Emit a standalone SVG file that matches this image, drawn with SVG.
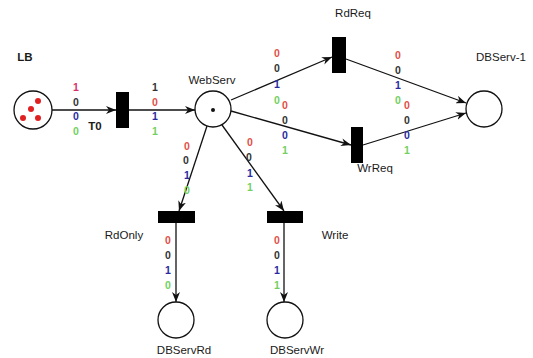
<svg xmlns="http://www.w3.org/2000/svg" width="533" height="358" viewBox="0 0 533 358">
<defs>
<marker id="arr" viewBox="0 0 10 8" refX="10" refY="4" markerWidth="10" markerHeight="8" markerUnits="userSpaceOnUse" orient="auto">
<path d="M0,0 L10,4 L0,8 L3,4 z" fill="#111"/>
</marker>
<style>
.place{fill:#fff;stroke:#111;stroke-width:1.3}
.trans{fill:#000}
.arc{stroke:#111;stroke-width:1.3;fill:none;marker-end:url(#arr)}
.lbl{font-family:"Liberation Sans",Arial,sans-serif;font-size:11.5px;fill:#1a1a1a;text-anchor:middle}
.bold{font-weight:bold}
.n{font-family:"Liberation Sans",Arial,sans-serif;font-size:10.5px;font-weight:bold;text-anchor:middle}
.r{fill:#e0504a}.k{fill:#333}.b{fill:#2a2aa0}.g{fill:#72d060}
.tok{fill:#e02020}
</style>
</defs>
<rect width="533" height="358" fill="#fff"/>
<g id="connectors">
<line class="arc" x1="52" y1="110" x2="116" y2="110"/>
<line class="arc" x1="129" y1="110" x2="195" y2="110"/>
<line class="arc" x1="231" y1="100" x2="332" y2="57"/>
<line class="arc" x1="231" y1="111" x2="351" y2="145"/>
<line class="arc" x1="207" y1="126" x2="179" y2="211"/>
<line class="arc" x1="222" y1="125" x2="284" y2="211"/>
<line class="arc" x1="346" y1="59" x2="466" y2="103"/>
<line class="arc" x1="363" y1="145" x2="466" y2="113"/>
<line class="arc" x1="176" y1="223" x2="176" y2="302"/>
<line class="arc" x1="284" y1="223" x2="284" y2="302"/>
</g>
<g id="arc-labels">
<text class="n" x="76" y="91" style="fill:#d8306a">1</text>
<text class="n k" x="76" y="106">0</text>
<text class="n b" x="76" y="120">0</text>
<text class="n g" x="76" y="135">0</text>
<text class="n k" x="155" y="91">1</text>
<text class="n r" x="155" y="106">0</text>
<text class="n b" x="155" y="120">1</text>
<text class="n g" x="155" y="135">1</text>
<text class="n r" x="277" y="57">0</text>
<text class="n k" x="277" y="72">0</text>
<text class="n b" x="277" y="88">1</text>
<text class="n g" x="277" y="104">0</text>
<text class="n r" x="285" y="109">0</text>
<text class="n k" x="285" y="124">0</text>
<text class="n b" x="285" y="139">0</text>
<text class="n g" x="285" y="154">1</text>
<text class="n r" x="398" y="59">0</text>
<text class="n k" x="398" y="74">0</text>
<text class="n b" x="398" y="89">1</text>
<text class="n g" x="398" y="104">0</text>
<text class="n r" x="407" y="109">0</text>
<text class="n k" x="407" y="124">0</text>
<text class="n b" x="407" y="139">0</text>
<text class="n g" x="407" y="154">1</text>
<text class="n r" x="187" y="150">0</text>
<text class="n k" x="186" y="164">0</text>
<text class="n b" x="187" y="179">1</text>
<text class="n g" x="187" y="194">0</text>
<text class="n r" x="250" y="146">0</text>
<text class="n k" x="249" y="161">0</text>
<text class="n b" x="250" y="177">1</text>
<text class="n g" x="250" y="191">1</text>
<text class="n r" x="168" y="244">0</text>
<text class="n k" x="168" y="259">0</text>
<text class="n b" x="168" y="274">1</text>
<text class="n g" x="168" y="289">0</text>
<text class="n r" x="277" y="244">0</text>
<text class="n k" x="277" y="259">0</text>
<text class="n b" x="277" y="274">1</text>
<text class="n g" x="277" y="289">1</text>
</g>
<g id="LB">
<circle class="place" cx="33" cy="110" r="19"/>
<circle class="tok" cx="38" cy="101" r="3"/>
<circle class="tok" cx="31" cy="109" r="3"/>
<circle class="tok" cx="23" cy="118" r="3"/>
<circle class="tok" cx="38" cy="118" r="3"/>
<text class="lbl bold" x="25" y="61">LB</text>
</g>
<g id="T0">
<rect class="trans" x="116" y="92" width="13" height="36"/>
<text class="lbl bold" x="95" y="130">T0</text>
</g>
<g id="WebServ">
<circle class="place" cx="213" cy="109" r="18"/>
<circle cx="213" cy="110" r="2" fill="#111"/>
<text class="lbl" x="212" y="84">WebServ</text>
</g>
<g id="RdReq">
<rect class="trans" x="332" y="37" width="14" height="36"/>
<text class="lbl" x="353" y="17">RdReq</text>
</g>
<g id="WrReq">
<rect class="trans" x="351" y="127" width="12" height="36"/>
<text class="lbl" x="375" y="172">WrReq</text>
</g>
<g id="DBServ-1">
<circle class="place" cx="484" cy="109" r="18"/>
<text class="lbl" x="501" y="61">DBServ-1</text>
</g>
<g id="RdOnly">
<rect class="trans" x="158" y="211" width="37" height="12"/>
<text class="lbl" x="124" y="239">RdOnly</text>
</g>
<g id="Write">
<rect class="trans" x="267" y="211" width="36" height="12"/>
<text class="lbl" x="335" y="239">Write</text>
</g>
<g id="DBServRd">
<circle class="place" cx="176" cy="320" r="18"/>
<text class="lbl" x="184" y="354">DBServRd</text>
</g>
<g id="DBServWr">
<circle class="place" cx="285" cy="320" r="18"/>
<text class="lbl" x="297" y="354">DBServWr</text>
</g>
</svg>
